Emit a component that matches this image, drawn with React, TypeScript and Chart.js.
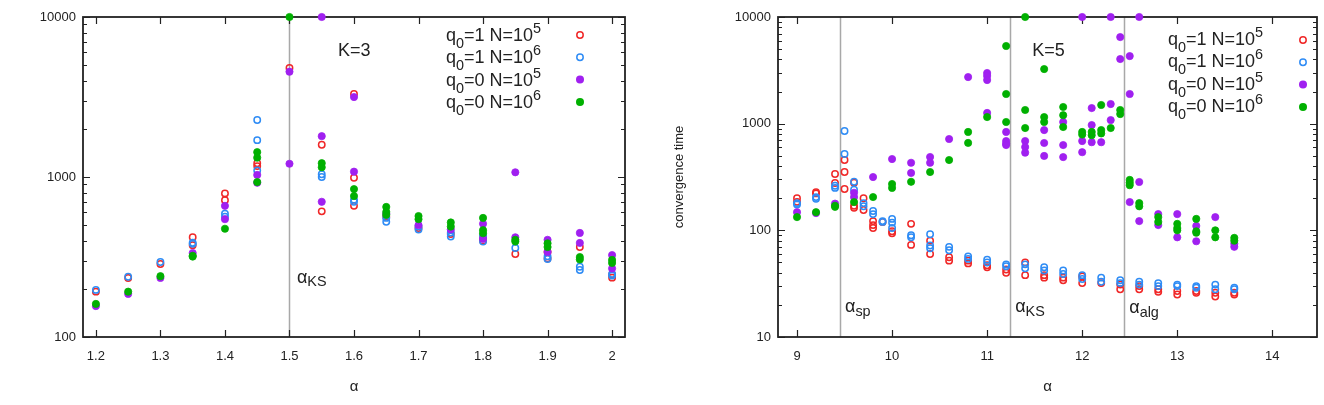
import React, { useEffect, useRef } from "react";
import { Chart, registerables } from "chart.js";

Chart.register(...registerables);

type Pt = [number, number];
interface Seg { t: string; k?: "sub" | "sup" }

const FONT = '"Liberation Sans", Arial, Helvetica, sans-serif';

// ---------- series meta ----------
const seriesLabels = ["q0=1 N=10^5", "q0=1 N=10^6", "q0=0 N=10^5", "q0=0 N=10^6"];
const legendParts: Seg[][] = [
  [{ t: "q" }, { t: "0", k: "sub" }, { t: "=1 N=10" }, { t: "5", k: "sup" }],
  [{ t: "q" }, { t: "0", k: "sub" }, { t: "=1 N=10" }, { t: "6", k: "sup" }],
  [{ t: "q" }, { t: "0", k: "sub" }, { t: "=0 N=10" }, { t: "5", k: "sup" }],
  [{ t: "q" }, { t: "0", k: "sub" }, { t: "=0 N=10" }, { t: "6", k: "sup" }],
];
const seriesColors = ["#f02828", "#2f8cf5", "#a020f0", "#00b000"];
const seriesOpen = [true, true, false, false];

// ---------- K=3 panel ----------
const k3XTicks = [1.2, 1.3, 1.4, 1.5, 1.6, 1.7, 1.8, 1.9, 2.0];
const k3YTicks = [100, 1000, 10000];
const k3VLines = [1.5];

const k3Red: Pt[] = [
  [1.2, 192], [1.25, 234], [1.3, 286], [1.35, 420], [1.35, 375], [1.4, 790], [1.4, 715],
  [1.45, 1220], [1.45, 1170], [1.5, 4800], [1.55, 1590], [1.55, 610], [1.6, 3300], [1.6, 990],
  [1.6, 660], [1.65, 565], [1.7, 480], [1.75, 440], [1.8, 420], [1.8, 400], [1.85, 330],
  [1.9, 340], [1.9, 310], [1.95, 365], [2.0, 235], [2.0, 245],
];
const k3Blue: Pt[] = [
  [1.2, 197], [1.25, 238], [1.3, 294], [1.35, 388], [1.35, 382], [1.4, 590], [1.4, 565],
  [1.45, 2270], [1.45, 1700], [1.45, 1100], [1.55, 1040], [1.55, 1000], [1.6, 720], [1.6, 700],
  [1.65, 555], [1.65, 525], [1.7, 470], [1.7, 490], [1.75, 450], [1.75, 425], [1.8, 395],
  [1.8, 430], [1.85, 360], [1.9, 320], [1.9, 307], [1.95, 275], [1.95, 262], [2.0, 248], [2.0, 242],
];
const k3Purple: Pt[] = [
  [1.2, 156], [1.25, 186], [1.3, 234], [1.35, 335], [1.4, 660], [1.4, 545], [1.45, 1030],
  [1.45, 920], [1.5, 4550], [1.5, 1210], [1.55, 10000], [1.55, 1800], [1.55, 700], [1.6, 3160],
  [1.6, 1080], [1.65, 590], [1.7, 500], [1.75, 470], [1.8, 510], [1.8, 410], [1.85, 1070],
  [1.85, 420], [1.9, 405], [1.9, 340], [1.95, 447], [1.95, 387], [2.0, 325], [2.0, 268],
];
const k3Green: Pt[] = [
  [1.2, 161], [1.25, 192], [1.3, 240], [1.35, 318], [1.35, 322], [1.4, 475], [1.45, 1430],
  [1.45, 1320], [1.45, 930], [1.5, 10000], [1.55, 1220], [1.55, 1150], [1.6, 840], [1.6, 760],
  [1.65, 650], [1.65, 605], [1.65, 580], [1.7, 570], [1.7, 545], [1.75, 520], [1.75, 490],
  [1.8, 555], [1.8, 465], [1.8, 445], [1.85, 405], [1.85, 395], [1.9, 385], [1.9, 365],
  [1.95, 316], [1.95, 305], [2.0, 303], [2.0, 290],
];

// ---------- K=5 panel ----------
const k5XTicks = [9, 10, 11, 12, 13, 14];
const k5YTicks = [10, 100, 1000, 10000];
const k5VLines = [9.45, 11.24, 12.44];

const k5Red: Pt[] = [
  [9.0, 200], [9.0, 185], [9.2, 228], [9.2, 222], [9.4, 337], [9.4, 278], [9.5, 456], [9.5, 352],
  [9.5, 244], [9.6, 280], [9.6, 170], [9.6, 163], [9.7, 200], [9.7, 155], [9.8, 122], [9.8, 112],
  [9.8, 105], [9.9, 120], [10.0, 98], [10.0, 94], [10.2, 115], [10.2, 73], [10.4, 80], [10.4, 60],
  [10.6, 56], [10.6, 52], [10.8, 52], [10.8, 49], [11.0, 47], [11.0, 45], [11.2, 43], [11.2, 40],
  [11.4, 50], [11.4, 38], [11.6, 38], [11.6, 36], [11.8, 36], [11.8, 34], [12.0, 37], [12.0, 32],
  [12.2, 32], [12.4, 31], [12.4, 28], [12.6, 30], [12.6, 28], [12.8, 28], [12.8, 26.5],
  [13.0, 27], [13.0, 25], [13.2, 27], [13.2, 26], [13.4, 26], [13.4, 24], [13.6, 26], [13.6, 25],
];
const k5Blue: Pt[] = [
  [9.0, 180], [9.0, 175], [9.2, 205], [9.2, 198], [9.4, 262], [9.4, 250], [9.5, 853], [9.5, 520],
  [9.6, 285], [9.6, 240], [9.7, 180], [9.7, 168], [9.8, 152], [9.8, 142], [9.9, 122], [9.9, 120],
  [10.0, 128], [10.0, 118], [10.0, 105], [10.2, 90], [10.2, 86], [10.4, 92], [10.4, 72], [10.4, 68],
  [10.6, 70], [10.6, 65], [10.8, 57], [10.8, 54], [11.0, 53], [11.0, 50], [11.2, 48], [11.2, 46],
  [11.4, 48], [11.4, 44], [11.6, 45], [11.6, 42], [11.8, 42], [11.8, 39], [12.0, 38], [12.0, 35],
  [12.2, 36], [12.2, 33], [12.4, 34], [12.4, 32], [12.6, 33], [12.6, 31], [12.8, 32], [12.8, 30],
  [13.0, 31], [13.0, 30], [13.2, 30], [13.2, 29], [13.4, 31], [13.4, 28], [13.6, 29], [13.6, 28],
];
const k5Purple: Pt[] = [
  [9.0, 148], [9.2, 145], [9.4, 178], [9.6, 225], [9.6, 205], [9.8, 316], [10.0, 466],
  [10.2, 430], [10.2, 345], [10.4, 487], [10.4, 430], [10.6, 718], [10.8, 2735], [11.0, 2985],
  [11.0, 2800], [11.0, 2565], [11.0, 1260], [11.2, 836], [11.2, 687], [11.2, 650], [11.2, 630],
  [11.4, 687], [11.4, 604], [11.4, 535], [11.6, 871], [11.6, 659], [11.6, 498], [11.8, 1037],
  [11.8, 630], [11.8, 486], [12.0, 10000], [12.0, 687], [12.0, 540], [12.1, 1400], [12.1, 970],
  [12.1, 670], [12.2, 670], [12.3, 10000], [12.3, 1528], [12.3, 1080], [12.4, 6480], [12.4, 4036],
  [12.5, 4300], [12.5, 1897], [12.5, 184], [12.6, 10000], [12.6, 284], [12.6, 122], [12.8, 142],
  [12.8, 112], [13.0, 142], [13.0, 86], [13.2, 110], [13.2, 79], [13.4, 133], [13.6, 75], [13.6, 70],
];
const k5Green: Pt[] = [
  [9.0, 133], [9.2, 148], [9.4, 166], [9.4, 170], [9.6, 184], [9.8, 205], [10.0, 272], [10.0, 250],
  [10.2, 285], [10.4, 352], [10.6, 456], [10.8, 836], [10.8, 660], [11.0, 1153], [11.2, 5347],
  [11.2, 1897], [11.2, 1037], [11.4, 10000], [11.4, 1343], [11.4, 910], [11.6, 3250], [11.6, 1153],
  [11.6, 1037], [11.8, 1433], [11.8, 1200], [11.8, 930], [12.0, 836], [12.0, 790], [12.1, 836],
  [12.1, 779], [12.2, 1497], [12.2, 871], [12.2, 810], [12.3, 910], [12.4, 1343], [12.4, 1230],
  [12.5, 297], [12.5, 280], [12.5, 265], [12.6, 180], [12.6, 168], [12.8, 133], [12.8, 120],
  [13.0, 115], [13.0, 105], [13.0, 100], [13.2, 128], [13.2, 98], [13.2, 95], [13.4, 100],
  [13.4, 86], [13.6, 85], [13.6, 80],
];

// ---------- panel configuration ----------
interface Note { segs: Seg[]; x: number; y: number; subOffset: number }
interface PanelCfg {
  xMin: number; xMax: number; xTicks: number[]; xDecimals: number;
  yMin: number; yMax: number; yTicks: number[];
  series: Pt[][];
  vlines: number[];
  notes: Note[];
  yTitle: string;
  yWidth: number;
  padRight: number;
  legend: { textDX: number; markerDX: number; y0: number; dy: number; baseDY: number };
}

const k3Cfg: PanelCfg = {
  xMin: 1.18, xMax: 2.02, xTicks: k3XTicks, xDecimals: 1,
  yMin: 100, yMax: 10000, yTicks: k3YTicks,
  series: [k3Red, k3Blue, k3Purple, k3Green],
  vlines: k3VLines,
  notes: [
    { segs: [{ t: "K=3" }], x: 1.5752, y: 5700, subOffset: 4 },
    { segs: [{ t: "α" }, { t: "KS", k: "sub" }], x: 1.5116, y: 218, subOffset: 3 },
  ],
  yTitle: "",
  yWidth: 83,
  padRight: 37,
  legend: { textDX: -179, markerDX: -45, y0: 18, dy: 22.3, baseDY: 6 },
};

const k5Cfg: PanelCfg = {
  xMin: 8.8, xMax: 14.47, xTicks: k5XTicks, xDecimals: 0,
  yMin: 10, yMax: 10000, yTicks: k5YTicks,
  series: [k5Red, k5Blue, k5Purple, k5Green],
  vlines: k5VLines,
  notes: [
    { segs: [{ t: "K=5" }], x: 11.474, y: 4300, subOffset: 4 },
    { segs: [{ t: "α" }, { t: "sp", k: "sub" }], x: 9.505, y: 17.1, subOffset: 4 },
    { segs: [{ t: "α" }, { t: "KS", k: "sub" }], x: 11.295, y: 17.1, subOffset: 4 },
    { segs: [{ t: "α" }, { t: "alg", k: "sub" }], x: 12.495, y: 16.8, subOffset: 4 },
  ],
  yTitle: "convergence time",
  yWidth: 116,
  padRight: 7,
  legend: { textDX: -149, markerDX: -14, y0: 23, dy: 22.3, baseDY: 5 },
};

// ---------- drawing helpers ----------
function drawRich(ctx: CanvasRenderingContext2D, x: number, base: number, segs: Seg[], size: number, subOff: number, supOff: number) {
  let cx = x;
  ctx.textAlign = "left";
  ctx.textBaseline = "alphabetic";
  for (const s of segs) {
    const fs = s.k ? size * 0.8 : size;
    ctx.font = `${fs}px ${FONT}`;
    const dy = s.k === "sub" ? subOff : s.k === "sup" ? -supOff : 0;
    ctx.fillText(s.t, cx, base + dy);
    cx += ctx.measureText(s.t).width;
  }
}

function drawMarker(ctx: CanvasRenderingContext2D, x: number, y: number, color: string, open: boolean) {
  ctx.beginPath();
  if (open) {
    ctx.arc(x, y, 3.2, 0, Math.PI * 2);
    ctx.lineWidth = 1.5;
    ctx.strokeStyle = color;
    ctx.stroke();
  } else {
    ctx.arc(x, y, 4, 0, Math.PI * 2);
    ctx.fillStyle = color;
    ctx.fill();
  }
}

function makeDecor(cfg: PanelCfg) {
  return {
    id: "decor",
    beforeDatasetsDraw(chart: any) {
      const ctx: CanvasRenderingContext2D = chart.ctx;
      const { left, right, top, bottom } = chart.chartArea;
      const xs = chart.scales.x;
      const ys = chart.scales.y;
      ctx.save();
      // vertical reference lines
      ctx.strokeStyle = "#a8a8a8";
      ctx.lineWidth = 1.5;
      for (const a of cfg.vlines) {
        const px = Math.round(xs.getPixelForValue(a)) + 0.5;
        ctx.beginPath();
        ctx.moveTo(px, top);
        ctx.lineTo(px, bottom);
        ctx.stroke();
      }
      // tick marks
      ctx.strokeStyle = "#222";
      ctx.lineWidth = 1.2;
      const major = 7;
      const minor = 4;
      ctx.beginPath();
      for (const v of cfg.xTicks) {
        const px = Math.round(xs.getPixelForValue(v)) + 0.5;
        ctx.moveTo(px, bottom); ctx.lineTo(px, bottom - major);
        ctx.moveTo(px, top); ctx.lineTo(px, top + major);
      }
      for (const v of cfg.yTicks) {
        const py = Math.round(ys.getPixelForValue(v)) + 0.5;
        ctx.moveTo(left, py); ctx.lineTo(left + major, py);
        ctx.moveTo(right, py); ctx.lineTo(right - major, py);
      }
      for (let d = cfg.yMin; d < cfg.yMax; d *= 10) {
        for (let m = 2; m <= 9; m++) {
          const py = Math.round(ys.getPixelForValue(d * m)) + 0.5;
          ctx.moveTo(left, py); ctx.lineTo(left + minor, py);
          ctx.moveTo(right, py); ctx.lineTo(right - minor, py);
        }
      }
      ctx.stroke();
      // frame
      ctx.strokeStyle = "#222";
      ctx.lineWidth = 1.8;
      ctx.strokeRect(Math.round(left), Math.round(top), Math.round(right - left), Math.round(bottom - top));
      // annotations
      ctx.fillStyle = "#222";
      for (const n of cfg.notes) {
        drawRich(ctx, xs.getPixelForValue(n.x), ys.getPixelForValue(n.y), n.segs, 18, n.subOffset, 8);
      }
      ctx.restore();
    },
    afterDatasetsDraw(chart: any) {
      const ctx: CanvasRenderingContext2D = chart.ctx;
      const { right, top } = chart.chartArea;
      const lg = cfg.legend;
      ctx.save();
      legendParts.forEach((parts, i) => {
        const my = top + lg.y0 + i * lg.dy;
        ctx.fillStyle = "#222";
        drawRich(ctx, right + lg.textDX, my + lg.baseDY, parts, 18, 7, 8);
        drawMarker(ctx, right + lg.markerDX, my, seriesColors[i], seriesOpen[i]);
      });
      ctx.restore();
    },
  };
}

function buildConfig(cfg: PanelCfg): any {
  const datasets = cfg.series.map((pts, i) => ({
    label: seriesLabels[i],
    data: pts.map(([x, y]) => ({ x, y })),
    showLine: false,
    pointStyle: "circle",
    pointRadius: seriesOpen[i] ? 3.2 : 3.6,
    pointHoverRadius: seriesOpen[i] ? 3.2 : 3.6,
    pointBorderWidth: seriesOpen[i] ? 1.5 : 0.8,
    pointBorderColor: seriesColors[i],
    pointBackgroundColor: seriesOpen[i] ? "rgba(255,255,255,0)" : seriesColors[i],
    clip: false,
    order: 3 - i,
  }));
  const tickFont = { family: FONT, size: 13 };
  return {
    type: "scatter",
    data: { datasets },
    plugins: [makeDecor(cfg)],
    options: {
      animation: false,
      responsive: false,
      maintainAspectRatio: false,
      events: [],
      layout: { padding: { left: 0, right: cfg.padRight, top: 17, bottom: 0 } },
      plugins: { legend: { display: false }, tooltip: { enabled: false }, title: { display: false } },
      scales: {
        x: {
          type: "linear",
          min: cfg.xMin,
          max: cfg.xMax,
          grid: { display: false, drawTicks: false },
          border: { display: false },
          afterBuildTicks: (s: any) => { s.ticks = cfg.xTicks.map((v) => ({ value: v })); },
          afterFit: (s: any) => { s.height = 68; },
          ticks: {
            autoSkip: false,
            maxRotation: 0,
            padding: 12,
            color: "#222",
            font: tickFont,
            callback: (v: number) => Number(v.toFixed(cfg.xDecimals)).toString(),
          },
          title: {
            display: true,
            text: "α",
            color: "#222",
            font: { family: FONT, size: 15 },
            padding: { top: 0, bottom: 9 },
          },
        },
        y: {
          type: "logarithmic",
          min: cfg.yMin,
          max: cfg.yMax,
          grid: { display: false, drawTicks: false },
          border: { display: false },
          afterBuildTicks: (s: any) => { s.ticks = cfg.yTicks.map((v) => ({ value: v })); },
          afterFit: (s: any) => { s.width = cfg.yWidth; },
          ticks: {
            autoSkip: false,
            padding: 7,
            color: "#222",
            font: tickFont,
            callback: (v: number) => String(v),
          },
          title: {
            display: cfg.yTitle !== "",
            text: cfg.yTitle,
            color: "#222",
            font: { family: FONT, size: 13 },
            padding: { top: 10, bottom: 0 },
          },
        },
      },
    },
  };
}

function Panel({ cfg, left }: { cfg: PanelCfg; left: number }) {
  const ref = useRef<HTMLCanvasElement>(null);
  useEffect(() => {
    if (!ref.current) return;
    const chart = new Chart(ref.current, buildConfig(cfg));
    return () => chart.destroy();
  }, [cfg]);
  return (
    <canvas
      ref={ref}
      width={662}
      height={405}
      style={{ position: "absolute", left, top: 0, width: 662, height: 405 }}
    />
  );
}

export default function App() {
  return (
    <div style={{ position: "fixed", left: 0, top: 0, width: 1324, height: 405, background: "#fff" }}>
      <Panel cfg={k3Cfg} left={0} />
      <Panel cfg={k5Cfg} left={662} />
    </div>
  );
}
